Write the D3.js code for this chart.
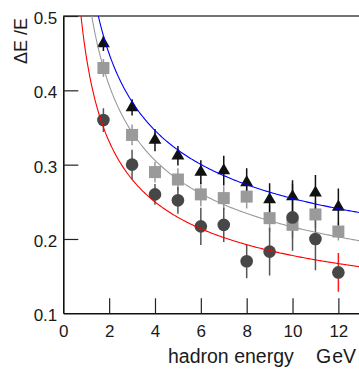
<!DOCTYPE html>
<html>
<head>
<meta charset="utf-8">
<script src="https://cdn.jsdelivr.net/npm/d3@7/dist/d3.min.js"></script>
<style>
  html, body { margin: 0; padding: 0; background: #fff; }
  svg { display: block; }
  text { font-family: "Liberation Sans", Arial, sans-serif; fill: #1a1a1a; }
</style>
</head>
<body>
<svg id="chart" width="359" height="369"></svg>
<script>
// Hadron energy points (GeV)
const energies = [1.75, 3, 4, 5, 6, 7, 8, 9, 10, 11, 12];

// Resolution ΔE/E for three configurations, with half error bars
const triangleRes = [0.463, 0.377, 0.333, 0.312, 0.290, 0.292, 0.276, 0.253, 0.257, 0.262, 0.243];
const triangleErr = [0.010, 0.011, 0.015, 0.013, 0.016, 0.020, 0.019, 0.022, 0.022, 0.024, 0.025];

const squareRes = [0.430, 0.340, 0.290, 0.280, 0.260, 0.255, 0.257, 0.228, 0.219, 0.233, 0.210];
const squareErr = [0.012, 0.014, 0.014, 0.015, 0.016, 0.016, 0.016, 0.018, 0.018, 0.018, 0.012];

const circleRes = [0.360, 0.300, 0.260, 0.252, 0.217, 0.219, 0.170, 0.183, 0.229, 0.200, 0.155];
const circleErr = [0.016, 0.020, 0.014, 0.018, 0.025, 0.023, 0.023, 0.032, 0.045, 0.042, 0.026];

// Fitted curves: ΔE/E = a / sqrt(E) + b
const fitBlue = { a: 0.498, b: 0.097 };
const fitGray = { a: 0.4876, b: 0.062 };
const fitRed  = { a: 0.3924, b: 0.0536 };

const xTicks = [0, 2, 4, 6, 8, 10, 12];
const yTicks = [0.1, 0.2, 0.3, 0.4, 0.5];

const svg = d3.select("#chart");
const plotLeft = 63.3, plotTop = 16, plotRight = 359, plotBottom = 313.3;

const x = d3.scaleLinear().domain([0, 12.9]).range([plotLeft, plotRight]);
const y = d3.scaleLinear().domain([0.1, 0.5]).range([plotBottom, plotTop]);

// Clip region for the plot area
svg.append("defs").append("clipPath").attr("id", "plotClip")
  .append("rect").attr("x", plotLeft).attr("y", plotTop)
  .attr("width", plotRight - plotLeft).attr("height", plotBottom - plotTop);

// Frame top line
svg.append("line")
  .attr("x1", plotLeft).attr("x2", plotRight).attr("y1", plotTop).attr("y2", plotTop)
  .attr("stroke", "#444").attr("stroke-width", 1.5);

// Axes with inward ticks
const xAxis = svg.append("g").attr("transform", `translate(0,${plotBottom})`)
  .call(d3.axisBottom(x).tickValues(xTicks).tickFormat(d3.format("d"))
    .tickSizeInner(-15).tickSizeOuter(0).tickPadding(12));
const yAxis = svg.append("g").attr("transform", `translate(${plotLeft},0)`)
  .call(d3.axisLeft(y).tickValues(yTicks).tickFormat(d3.format(".1f"))
    .tickSizeInner(-15).tickSizeOuter(0).tickPadding(6));

[xAxis, yAxis].forEach(g => {
  g.select(".domain").attr("stroke", "#111").attr("stroke-width", 1.6);
  g.selectAll(".tick line").attr("stroke", "#222").attr("stroke-width", 1.2);
  g.selectAll(".tick text").attr("font-size", 17).attr("fill", "#1a1a1a")
    .style("font-family", "'Liberation Sans', Arial, sans-serif");
});
yAxis.selectAll(".tick text").attr("dy", "0.45em");
yAxis.selectAll(".tick").filter(d => d === 0.1).select("line").remove();
xAxis.selectAll(".tick").filter(d => d === 0).select("line").remove();

// Axis titles
svg.append("text")
  .attr("transform", "translate(27,41) rotate(-90)")
  .attr("text-anchor", "middle")
  .attr("font-size", 18)
  .text("ΔE /E");

svg.append("text")
  .attr("x", 168).attr("y", 363)
  .attr("font-size", 19.5)
  .text("hadron energy");

const unit = svg.append("text").attr("x", 316).attr("y", 363).attr("font-size", 19.5);
unit.append("tspan").text("G");
unit.append("tspan").attr("dx", 1).text("eV");

const plot = svg.append("g").attr("clip-path", "url(#plotClip)");

function series(values, errs) {
  return energies.map((e, i) => ({ e, v: values[i], err: errs[i] }));
}

function errorBars(data, color, lastColor) {
  plot.append("g").selectAll("line").data(data).join("line")
    .attr("x1", d => x(d.e)).attr("x2", d => x(d.e))
    .attr("y1", d => y(d.v + d.err)).attr("y2", d => y(d.v - d.err))
    .attr("stroke", (d, i) => (lastColor && i === data.length - 1) ? lastColor : color)
    .attr("stroke-width", 1.5);
}

const sq = series(squareRes, squareErr);
const ci = series(circleRes, circleErr);
const tr = series(triangleRes, triangleErr);

errorBars(sq, "#9a9a9a");
errorBars(ci, "#555", "#ff1a1a");
errorBars(tr, "#111");

// Squares
plot.append("g").selectAll("rect").data(sq).join("rect")
  .attr("x", d => x(d.e) - 6).attr("y", d => y(d.v) - 6)
  .attr("width", 12).attr("height", 12)
  .attr("fill", "#9a9a9a");

// Circles
plot.append("g").selectAll("circle").data(ci).join("circle")
  .attr("cx", d => x(d.e)).attr("cy", d => y(d.v)).attr("r", 6.3)
  .attr("fill", "#474747");

// Triangles
const triSym = d3.symbol().type(d3.symbolTriangle).size(72);
plot.append("g").selectAll("path").data(tr).join("path")
  .attr("transform", d => `translate(${x(d.e)},${y(d.v)})`)
  .attr("d", triSym)
  .attr("fill", "#111");

// Fit curves
function fitCurve(fit, color) {
  const pts = d3.range(0.6, 13.01, 0.05).map(e => [e, fit.a / Math.sqrt(e) + fit.b]);
  plot.append("path").datum(pts)
    .attr("fill", "none").attr("stroke", color).attr("stroke-width", 1.1)
    .attr("d", d3.line().x(d => x(d[0])).y(d => y(d[1])));
}
fitCurve(fitGray, "#9a9a9a");
fitCurve(fitRed, "#ff0000");
fitCurve(fitBlue, "#0000ff");
</script>
</body>
</html>
